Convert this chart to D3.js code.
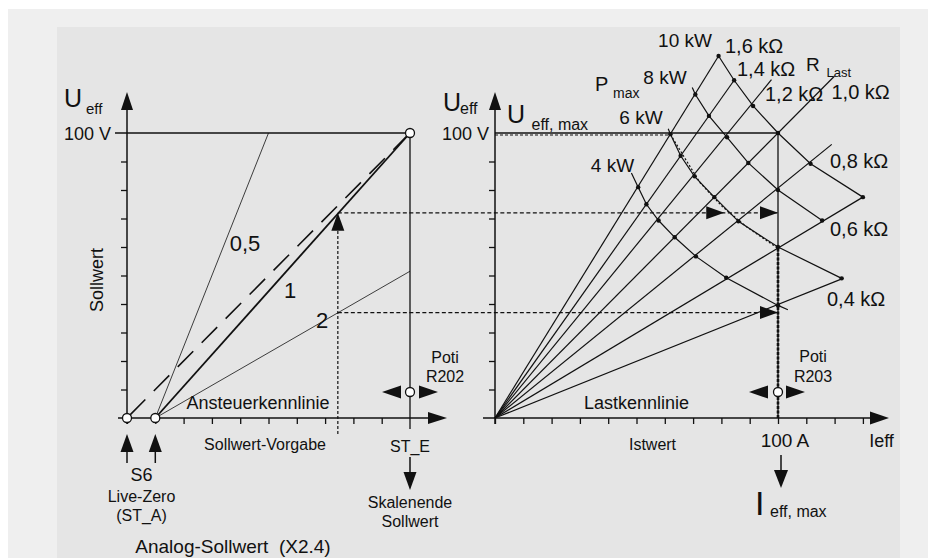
<!DOCTYPE html>
<html><head><meta charset="utf-8">
<script src="https://cdn.jsdelivr.net/npm/d3@7"></script>
<style>
html,body{margin:0;padding:0;background:#fff;}
svg{display:block;font-family:"Liberation Sans",Arial,Helvetica,sans-serif;}
text{fill:#111;}
</style></head><body>
<svg id="chart" width="928" height="558"></svg>
<script>
// ---------- data ----------
const voltTicks = [10, 20, 30, 40, 50, 60, 70, 80, 90];           // V
const setpointTicks = [0, 1, 2, 3, 4, 5, 6, 7, 8, 9];             // analog setpoint units
const currentTicks = [0, 10, 20, 30, 40, 50, 60, 70, 80, 90, 100, 110, 120, 130]; // A
const liveZero = 1;
const setpointEnd = 10;
const ctrlGain1 = [[1, 0], [10, 100]];
const ctrlGain05 = [[1, 0], [5, 100]];
const ctrlGain2 = [[1, 0], [10, 51.5]];
const ctrlNoLiveZero = [[0, 0], [10, 100]];
const operatingSetpoint = 7.45;
const operatingVoltages = [72, 37];
const limitArrowCurrents = [81, 100];
const loadLabels = ["1,6 kΩ", "1,4 kΩ", "1,2 kΩ", "1,0 kΩ", "0,8 kΩ", "0,6 kΩ", "0,4 kΩ"];
const loadEnds = [[79, 127], [84.5, 118.5], [97.7, 118.7], [120, 120], [119, 96], [130, 77.5], [123, 49]];
const powerLabels = ["10 kW", "8 kW", "6 kW", "4 kW"];
const power10 = [[79, 127], [84.5, 118.5], [91.2, 109.5], [100, 100], [111.5, 89.2], [130, 77.5]];
const power8 = [[70.8, 113.5], [75.6, 106], [82, 98.5], [89.5, 89.5], [100, 80], [115.6, 69.3]];
const power6 = [[62, 99.6], [65.6, 92], [70.5, 84.8], [77.5, 77.5], [86, 69], [100, 60], [122.5, 49]];
const power4 = [[50.6, 81], [53.5, 75], [57.8, 69.3], [63.5, 63.4], [71, 56.7], [81.7, 49.2], [100, 39.5]];
const power8Lead = [69.7, 116];
const power6Lead = [61.2, 101.5];
const power4Lead = [48.2, 86];
const power4Tail = [103.5, 38];
const limitCurve = [[62, 99.5], [67.5, 90.5], [72.5, 82.5], [80.5, 74], [89, 67], [100, 59.5], [100, 0]];
const ratedVoltage = 100;
const ratedCurrent = 100;

// ---------- drawing ----------
const svg = d3.select("#chart");
const INK = "#111";
svg.append("rect").attr("width", 928).attr("height", 558).attr("fill", "#fff");
svg.append("rect").attr("x", 8).attr("y", 9).attr("width", 920).attr("height", 549).attr("fill", "#efefef");
svg.append("rect").attr("x", 57).attr("y", 27).attr("width", 843).attr("height", 531).attr("fill", "#e5e5e5");

const yU = d3.scaleLinear().domain([0, 100]).range([418, 133]);
const xS = d3.scaleLinear().domain([0, 10]).range([127, 410]);
const xI = d3.scaleLinear().domain([0, 100]).range([495, 778]);

const lineS = d3.line().x(d => xS(d[0])).y(d => yU(d[1]));
const lineI = d3.line().x(d => xI(d[0])).y(d => yU(d[1]));

function seg(x1, y1, x2, y2, w = 1.3, dash = null) {
  const l = svg.append("line").attr("x1", x1).attr("y1", y1).attr("x2", x2).attr("y2", y2)
    .attr("stroke", INK).attr("stroke-width", w);
  if (dash) l.attr("stroke-dasharray", dash);
  return l;
}
function arrow(tx, ty, dir, len = 18, half = 6.5) {
  let pts;
  if (dir === "up") pts = [[tx, ty], [tx - half, ty + len], [tx + half, ty + len]];
  if (dir === "down") pts = [[tx, ty], [tx - half, ty - len], [tx + half, ty - len]];
  if (dir === "left") pts = [[tx, ty], [tx + len, ty - half], [tx + len, ty + half]];
  if (dir === "right") pts = [[tx, ty], [tx - len, ty - half], [tx - len, ty + half]];
  svg.append("polygon").attr("points", pts.map(p => p.join(",")).join(" ")).attr("fill", INK);
}
function txt(s, x, y, size, anchor = "middle", extra = {}) {
  const t = svg.append("text").attr("x", x).attr("y", y).attr("font-size", size)
    .attr("text-anchor", anchor).attr("dominant-baseline", "central").text(s);
  for (const k in extra) t.attr(k, extra[k]);
  return t;
}
function circ(x, y, r = 4.5) {
  svg.append("circle").attr("cx", x).attr("cy", y).attr("r", r)
    .attr("fill", "#fff").attr("stroke", INK).attr("stroke-width", 1.3);
}
function styleTicks(g) {
  g.select(".domain").remove();
  g.selectAll("line").attr("stroke", INK).attr("stroke-width", 1.3);
}

// ===== LEFT CHART =====
svg.append("g").attr("transform", `translate(${xS(0)},0)`)
  .call(d3.axisLeft(yU).tickValues(voltTicks).tickSize(6).tickFormat("")).call(styleTicks);
svg.append("g").attr("transform", `translate(0,${yU(0)})`)
  .call(d3.axisBottom(xS).tickValues(setpointTicks).tickSize(6).tickFormat("")).call(styleTicks);
seg(xS(0), yU(0) + 6, xS(0), 108, 1.5);
arrow(xS(0), 92, "up", 18, 6);
seg(118, yU(0), 430, yU(0), 1.5);
arrow(447, yU(0), "right", 19, 6);

// 100 V line and end-of-scale vertical
seg(115, yU(ratedVoltage), xS(setpointEnd), yU(ratedVoltage), 1.3);
seg(xS(setpointEnd), yU(ratedVoltage), xS(setpointEnd), 429, 1.3);

// control characteristics
svg.append("path").attr("d", lineS(ctrlGain05)).attr("fill", "none").attr("stroke", INK).attr("stroke-width", 0.8);
svg.append("path").attr("d", lineS(ctrlGain2)).attr("fill", "none").attr("stroke", INK).attr("stroke-width", 0.8);
svg.append("path").attr("d", lineS(ctrlGain1)).attr("fill", "none").attr("stroke", INK).attr("stroke-width", 1.8);
svg.append("path").attr("d", lineS(ctrlNoLiveZero)).attr("fill", "none").attr("stroke", INK)
  .attr("stroke-width", 1.6).attr("stroke-dasharray", "22,12").attr("stroke-dashoffset", -4);

// operating point projection
const opX = xS(operatingSetpoint);
seg(opX, 434, opX, yU(operatingVoltages[0]) + 16, 1.2, "3,2");
arrow(opX, yU(operatingVoltages[0]), "up", 18, 6.5);
seg(opX, yU(operatingVoltages[0]), xI(ratedCurrent), yU(operatingVoltages[0]), 1.2, "4,2.5");
seg(opX, yU(operatingVoltages[1]), xI(ratedCurrent), yU(operatingVoltages[1]), 1.2, "4,2.5");

// circles
circ(xS(0), yU(0));
circ(xS(liveZero), yU(0));
circ(xS(setpointEnd), yU(ratedVoltage));
// Poti R202
arrow(382, 392, "left", 19, 6.5);
arrow(438, 392, "right", 19, 6.5);
circ(xS(setpointEnd), 392);

// S6 up arrows
[0, liveZero].forEach(v => {
  seg(xS(v), 450, xS(v), 463, 1.5);
  arrow(xS(v), 434, "up", 18, 6.5);
});
// ST_E down arrow
seg(xS(setpointEnd), 457, xS(setpointEnd), 475, 1.5);
arrow(xS(setpointEnd), 490, "down", 18, 6.5);

// left texts
txt("U", 64, 98, 25, "start");
txt("eff", 86, 108, 15, "start");
txt("100 V", 111, yU(100) + 0.5, 18, "end");
txt("Sollwert", 97, 280, 18, "middle", { transform: "rotate(-90,97,280)" });
txt("0,5", 245, 243, 22);
txt("1", 290, 290, 22);
txt("2", 322, 320, 22);
txt("Ansteuerkennlinie", 258, 403, 18);
txt("Sollwert-Vorgabe", 265, 444.5, 16);
txt("Poti", 445, 357.5, 16);
txt("R202", 445, 376.5, 16);
txt("ST_E", 410, 446.5, 16);
txt("Skalenende", 410, 502.5, 16);
txt("Sollwert", 410, 521.5, 16);
txt("S6", 141.5, 475, 18);
txt("Live-Zero", 141.5, 496, 16);
txt("(ST_A)", 141.5, 515.5, 16);
txt("Analog-Sollwert  (X2.4)", 233, 546.5, 19).style("white-space", "pre");

// ===== RIGHT CHART =====
svg.append("g").attr("transform", `translate(${xI(0)},0)`)
  .call(d3.axisLeft(yU).tickValues(voltTicks).tickSize(6).tickFormat("")).call(styleTicks);
svg.append("g").attr("transform", `translate(0,${yU(0)})`)
  .call(d3.axisBottom(xI).tickValues(currentTicks).tickSize(6).tickFormat("")).call(styleTicks);
seg(xI(0), yU(0) + 6, xI(0), 108, 1.5);
arrow(xI(0), 92, "up", 18, 6);
seg(483, yU(0), 873, yU(0), 1.5);
arrow(889, yU(0), "right", 19, 6.5);

// rated lines
seg(xI(0), yU(ratedVoltage), xI(ratedCurrent), yU(ratedVoltage), 1.3);
seg(xI(0), yU(ratedVoltage) + 2, xI(limitCurve[0][0]), yU(ratedVoltage) + 2, 1.1, "3,2");
seg(xI(ratedCurrent), yU(ratedVoltage), xI(ratedCurrent), yU(0), 1.3);

// load lines
loadEnds.forEach(e => {
  svg.append("path").attr("d", lineI([[0, 0], e])).attr("fill", "none")
    .attr("stroke", INK).attr("stroke-width", 1.2);
});
// power curves
const powerCurves = [power10, [power8Lead, ...power8], [power6Lead, ...power6], [power4Lead, ...power4, power4Tail]];
powerCurves.forEach(c => {
  svg.append("path").attr("d", lineI(c)).attr("fill", "none")
    .attr("stroke", INK).attr("stroke-width", 1.2);
});
// intersection dots
[power10, power8, power6, power4].forEach(c => {
  svg.append("g").selectAll("circle").data(c).join("circle")
    .attr("cx", d => xI(d[0])).attr("cy", d => yU(d[1])).attr("r", 2.2).attr("fill", INK);
});
// limit curve (dotted)
svg.append("path").attr("d", lineI(limitCurve.slice(0, 6))).attr("fill", "none")
  .attr("stroke", INK).attr("stroke-width", 1.2).attr("stroke-dasharray", "2,2");
seg(xI(ratedCurrent), yU(limitCurve[5][1]), xI(ratedCurrent), yU(0), 2.6, "3,1.5");

// arrows on projection lines
limitArrowCurrents.forEach(i => arrow(xI(i), yU(operatingVoltages[0]), "right", 18, 6.5));
arrow(xI(ratedCurrent), yU(operatingVoltages[1]), "right", 18, 6.5);

// Poti R203
arrow(749, 392, "left", 19, 6.5);
arrow(805, 392, "right", 19, 6.5);
circ(xI(ratedCurrent), 392);
// I_eff,max arrow
seg(781, 455, 781, 472, 1.5);
arrow(781, 488, "down", 18, 7);

// right texts
txt("U", 443, 101.5, 25, "start");
txt("eff", 460, 108, 16, "start");
txt("100 V", 489, yU(100) + 0.5, 18, "end");
txt("U", 507, 113.5, 25, "start");
txt("eff, max", 531.5, 124.5, 16, "start");
txt("P", 595, 83.5, 20, "start");
txt("max", 613, 93, 14, "start");
txt(powerLabels[0], 685, 40.5, 19);
txt(powerLabels[1], 665, 77.5, 19);
txt(powerLabels[2], 641, 117.5, 19);
txt(powerLabels[3], 612.5, 165.5, 19);
txt(loadLabels[0], 725, 46, 20, "start");
txt(loadLabels[1], 737, 69, 20, "start");
txt("R", 806, 64.5, 19, "start");
txt("Last", 826.5, 72, 13, "start");
txt(loadLabels[2], 765, 94, 20, "start");
txt(loadLabels[3], 831.5, 91.5, 20, "start");
txt(loadLabels[4], 830, 160.5, 20, "start");
txt(loadLabels[5], 830, 229, 20, "start");
txt(loadLabels[6], 827, 299, 20, "start");
txt("Lastkennlinie", 636.5, 402.5, 18);
txt("Istwert", 652.5, 444.5, 16);
txt("Poti", 813, 356.5, 16);
txt("R203", 813, 376.5, 16);
txt("100 A", 785, 440.5, 19);
txt("Ieff", 881.5, 440.5, 18);
txt("I", 755, 503, 34, "start");
txt("eff, max", 770, 511, 16, "start");
</script>
</body></html>
